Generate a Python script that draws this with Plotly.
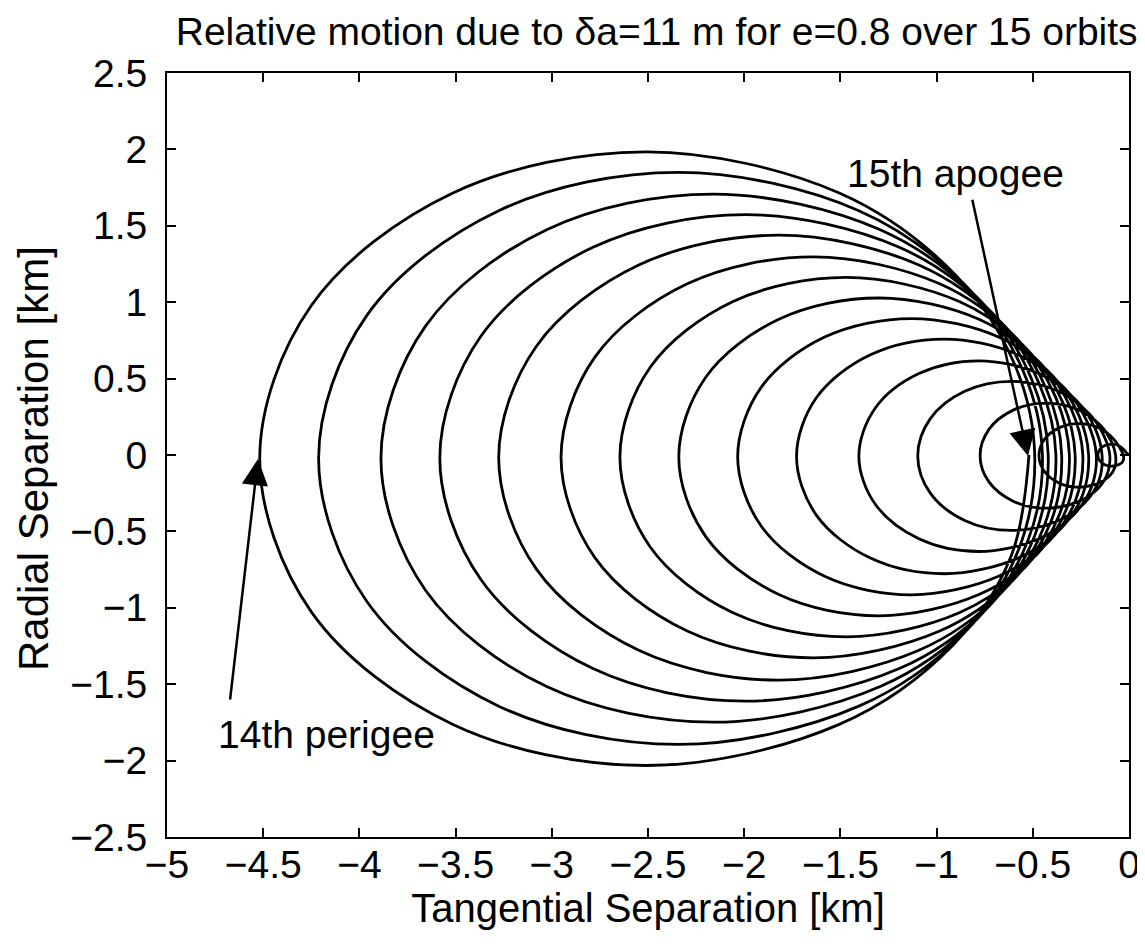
import math
import plotly.graph_objects as go

# ---- values ----
# leftmost (perigee) tangential separation of each of the 15 loops [km]
perigee_x = [-0.16, -0.47, -0.78, -1.09, -1.40, -1.72, -2.03, -2.34,
             -2.65, -2.96, -3.27, -3.58, -3.89, -4.21, -4.52]
# maximum radial separation (half height) of each loop [km]
loop_top = [0.07, 0.21, 0.35, 0.48, 0.62, 0.76, 0.90, 1.04,
            1.18, 1.32, 1.45, 1.59, 1.73, 1.87, 2.01]
# tangential separation at each apogee (start + 15 apogees) [km]
apogee_x = [0.00, -0.03, -0.07, -0.10, -0.14, -0.17, -0.21, -0.24,
            -0.28, -0.31, -0.35, -0.38, -0.42, -0.45, -0.49, -0.52]
ecc = 0.8
radial_drop = -0.012      # loops sit very slightly below the axis

x_ticks = [-5, -4.5, -4, -3.5, -3, -2.5, -2, -1.5, -1, -0.5, 0]
x_ticktext = ["\u22125", "\u22124.5", "\u22124", "\u22123.5", "\u22123", "\u22122.5",
              "\u22122", "\u22121.5", "\u22121", "\u22120.5", "0"]
y_ticks = [2.5, 2, 1.5, 1, 0.5, 0, -0.5, -1, -1.5, -2, -2.5]
y_ticktext = ["2.5", "2", "1.5", "1", "0.5", "0", "\u22120.5", "\u22121",
              "\u22121.5", "\u22122", "\u22122.5"]

title_text = "Relative motion due to \u03b4a=11 m for e=0.8 over 15 orbits"
x_title = "Tangential Separation [km]"
y_title = "Radial Separation [km]"

# ---- build the key points of each loop (smoothed by plotly's spline) ----
def pt(c, deg):
    r = ecc * c
    a = math.radians(deg)
    return (-c + r * math.cos(a), r * math.sin(a) + radial_drop * r)

tangent_deg = math.degrees(math.acos(ecc))   # where the loop touches the wedge
arc_deg = [60, 90, 120, 150, 180, 210, 240, 270, 300]

xs, ys = [], []
for k in range(len(perigee_x)):
    r = loop_top[k]
    c = -(perigee_x[k] + r)
    c_a0 = -apogee_x[k] / (1 - ecc)
    c_a1 = -apogee_x[k + 1] / (1 - ecc)
    keys = [(c_a0, 0.0),
            ((c_a0 + c) / 2, 18.0),
            (c - 0.25 * (c - c_a0), tangent_deg)]
    keys += [(c, d) for d in arc_deg]
    keys += [(c + 0.25 * (c_a1 - c), 360 - tangent_deg),
             ((c + c_a1) / 2, 342.0)]
    for cc, d in keys:
        if d == 0.0:
            xs.append(apogee_x[k]); ys.append(0.0)
        else:
            px, py = pt(cc, d)
            xs.append(px); ys.append(py)
xs.append(apogee_x[-1]); ys.append(0.0)

fig = go.Figure()
fig.add_trace(go.Scatter(
    x=xs, y=ys, mode="lines",
    line=dict(color="black", width=2.8, shape="spline", smoothing=1.0),
    hoverinfo="skip", showlegend=False))

font_family = "Liberation Sans, Arial, Helvetica, sans-serif"

axis_common = dict(
    showgrid=False, zeroline=False, showline=True, linecolor="black",
    linewidth=2, mirror="allticks", ticks="inside", ticklen=9, tickwidth=2,
    tickcolor="black", automargin=False,
    tickfont=dict(family=font_family, size=39, color="black"),
)

# the page adds an 8 px body margin, so the figure is drawn 8 px smaller
W, H = 1137, 944
fig.update_layout(
    width=W, height=H,
    margin=dict(l=159, r=16, t=65, b=115),
    paper_bgcolor="white", plot_bgcolor="white",
    font=dict(family=font_family, color="black"),
    title=dict(text=title_text, x=0.509, xref="paper", xanchor="center",
               y=1 - 23 / H, yref="container", yanchor="middle",
               font=dict(size=39, family=font_family, color="black")),
    xaxis=dict(range=[-5, 0], tickvals=x_ticks, ticktext=x_ticktext,
               ticklabelstandoff=-8,
               title=dict(text=x_title, standoff=2,
                          font=dict(size=40, family=font_family)),
               **axis_common),
    yaxis=dict(range=[-2.5, 2.5], tickvals=y_ticks, ticktext=y_ticktext,
               ticklabelstandoff=10, **axis_common),
)

# y-axis title placed precisely as rotated text
fig.add_annotation(x=-0.138, y=0.495, xref="paper", yref="paper",
                   text=y_title, textangle=-90, showarrow=False,
                   xanchor="center", yanchor="middle", borderpad=0,
                   font=dict(size=42, family=font_family, color="black"))

# annotations: texts and arrows
fig.add_annotation(x=-0.90, y=1.84, text="15th apogee", showarrow=False,
                   font=dict(size=39, family=font_family, color="black"))
fig.add_annotation(x=-0.525, y=-0.007, ax=-0.816, ay=1.68, axref="x", ayref="y",
                   text="", showarrow=True, arrowhead=2, arrowsize=2.1,
                   arrowwidth=2.5, arrowcolor="black", standoff=0)
fig.add_annotation(x=-4.17, y=-1.83, text="14th perigee", showarrow=False,
                   font=dict(size=39, family=font_family, color="black"))
fig.add_annotation(x=-4.527, y=-0.026, ax=-4.673, ay=-1.61, axref="x", ayref="y",
                   text="", showarrow=True, arrowhead=2, arrowsize=2.1,
                   arrowwidth=2.5, arrowcolor="black", standoff=0)

fig.write_html("out.html")
